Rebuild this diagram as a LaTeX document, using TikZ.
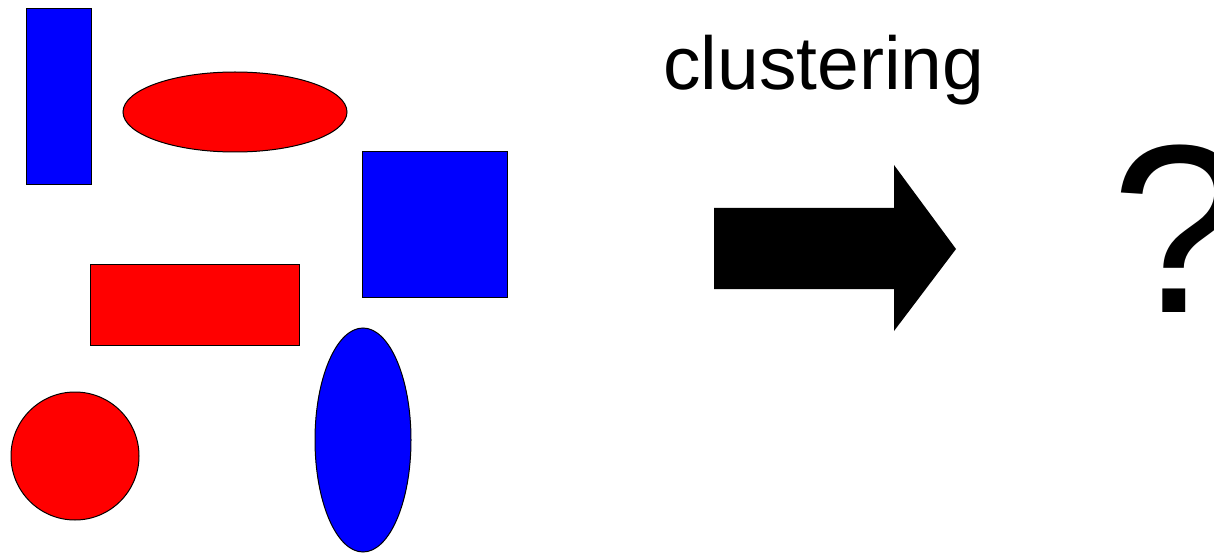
\documentclass[tikz,border=0pt]{standalone}
\usepackage{fontspec}
\setmainfont{Liberation Sans}
\usetikzlibrary{shapes.geometric}
\definecolor{shblue}{RGB}{0,0,255}
\definecolor{shred}{RGB}{255,0,0}
\begin{document}
\begin{tikzpicture}[x=1pt,y=-1pt,
  shp/.style={draw=black,line width=1pt,inner sep=0pt,outer sep=0pt},
  brect/.style={shp,fill=shblue,rectangle},
  rrect/.style={shp,fill=shred,rectangle},
  bell/.style={shp,fill=shblue,ellipse},
  rell/.style={shp,fill=shred,ellipse}]
\useasboundingbox[fill=white] (0,0) rectangle (1214,553);
\node[brect,minimum width=65pt,minimum height=176pt] (b1) at (58.5,97) {};
\node[rell,minimum width=224pt,minimum height=80pt] (r1) at (235,112) {};
\node[brect,minimum width=145pt,minimum height=145pt] (b2) at (434.5,224.5) {};
\node[rrect,minimum width=209pt,minimum height=81pt] (r2) at (194.5,304.5) {};
\node[rell,minimum width=128pt,minimum height=128pt] (r3) at (75,456) {};
\node[bell,minimum width=96pt,minimum height=224pt] (b3) at (363,440) {};
\fill[black] (714,208) -- (894,208) -- (894,165) -- (956,249) -- (894,331) -- (894,289) -- (714,289) -- cycle;
\node[inner sep=0pt,anchor=base west,font=\fontsize{75}{80}\selectfont] (t1) at (663,90) {clustering};
\node[inner sep=0pt,anchor=base,font=\fontsize{240}{250}\selectfont] (q) at (1178,312) {?};
\end{tikzpicture}
\end{document}
